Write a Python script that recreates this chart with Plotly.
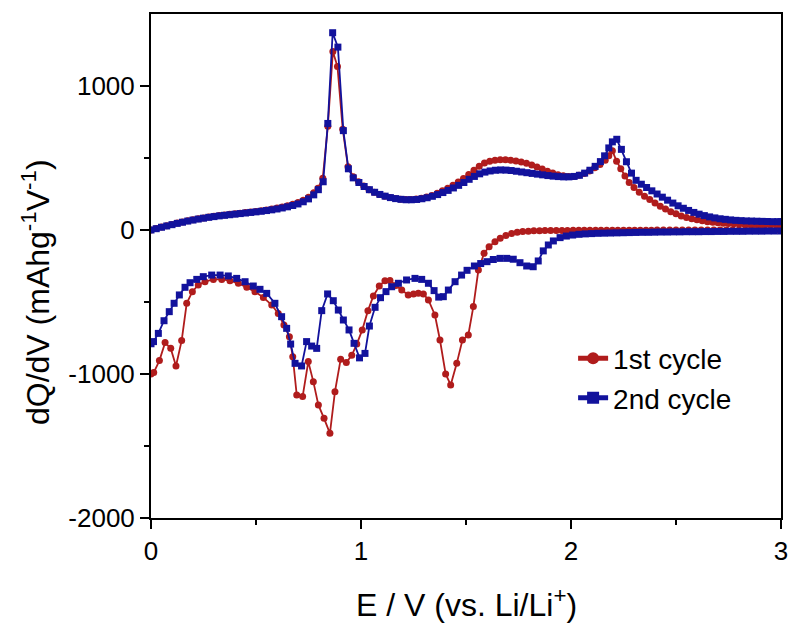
import plotly.graph_objects as go

# (E / V, dQ/dV / mAh g^-1 V^-1) pairs
charge_1st = [
    (0.0, 0), (0.025, 10), (0.05, 20), (0.075, 30), (0.1, 39), (0.125, 48), (0.15, 56), (0.175, 64),
    (0.2, 71), (0.225, 78), (0.25, 84), (0.275, 90), (0.3, 95), (0.325, 100), (0.35, 105), (0.375, 109),
    (0.4, 113), (0.425, 117), (0.45, 121), (0.475, 125), (0.5, 129), (0.525, 134), (0.55, 139), (0.575, 145),
    (0.6, 152), (0.625, 160), (0.65, 169), (0.675, 179), (0.7, 191), (0.725, 207), (0.75, 228), (0.775, 258),
    (0.795, 290), (0.818, 360), (0.842, 720), (0.866, 1240), (0.888, 1135), (0.913, 700), (0.938, 440),
    (0.963, 370), (0.988, 335), (1.013, 305), (1.038, 280), (1.063, 262), (1.088, 247), (1.113, 235),
    (1.138, 225), (1.163, 218), (1.188, 213), (1.213, 211), (1.238, 212), (1.263, 215), (1.288, 221),
    (1.313, 229), (1.338, 240), (1.363, 255), (1.388, 272), (1.413, 290), (1.438, 310), (1.463, 333),
    (1.488, 358), (1.513, 385), (1.538, 415), (1.563, 442), (1.588, 465), (1.613, 478), (1.638, 485),
    (1.663, 488), (1.688, 487), (1.713, 484), (1.738, 479), (1.763, 472), (1.788, 463), (1.813, 452),
    (1.838, 438), (1.863, 423), (1.888, 408), (1.913, 395), (1.938, 384), (1.963, 376), (1.988, 371),
    (2.013, 372), (2.038, 380), (2.063, 393), (2.088, 410), (2.113, 432), (2.138, 455), (2.163, 485),
    (2.18, 515), (2.197, 550), (2.217, 478), (2.237, 425), (2.257, 375), (2.277, 330), (2.3, 295),
    (2.325, 262), (2.35, 235), (2.375, 212), (2.4, 188), (2.425, 165), (2.45, 145), (2.475, 127),
    (2.5, 112), (2.525, 98), (2.55, 87), (2.575, 78), (2.6, 71), (2.625, 64), (2.65, 58), (2.675, 54),
    (2.7, 50), (2.725, 47), (2.75, 45), (2.775, 43), (2.8, 41), (2.825, 40), (2.85, 39), (2.875, 38),
    (2.9, 37), (2.925, 37), (2.95, 36), (2.975, 36), (3.0, 35),
]

discharge_1st = [
    (0.0, -1000), (0.013, -990), (0.04, -907), (0.067, -782), (0.094, -822), (0.119, -944), (0.146, -768),
    (0.17, -509), (0.197, -428), (0.225, -382), (0.257, -359), (0.297, -343), (0.337, -343), (0.376, -352),
    (0.416, -370), (0.456, -398), (0.495, -428), (0.535, -468), (0.575, -521), (0.606, -579), (0.633, -660),
    (0.659, -741), (0.675, -880), (0.694, -1146), (0.722, -1157), (0.749, -914), (0.773, -1053),
    (0.797, -1215), (0.824, -1308), (0.852, -1412), (0.876, -1123), (0.903, -898), (0.93, -921),
    (0.956, -870), (0.98, -792), (1.006, -694), (1.033, -560), (1.059, -458), (1.087, -389), (1.114, -352),
    (1.138, -350), (1.166, -385), (1.194, -417), (1.225, -451), (1.25, -445), (1.273, -440), (1.297, -444),
    (1.321, -486), (1.352, -590), (1.376, -764), (1.403, -1000), (1.427, -1076), (1.456, -926),
    (1.483, -764), (1.511, -729), (1.535, -532), (1.559, -278), (1.586, -162), (1.61, -116), (1.638, -81),
    (1.663, -57), (1.69, -38), (1.717, -25), (1.744, -16), (1.77, -11), (1.797, -8), (1.823, -6),
    (1.85, -5), (1.876, -4), (1.903, -4), (1.93, -3), (1.957, -3), (1.983, -3), (2.01, -2), (2.037, -2),
    (2.063, -2), (2.09, -2), (2.117, -2), (2.143, -2), (2.17, -1), (2.197, -1), (2.223, -1), (2.25, -1),
    (2.277, -1), (2.303, -1), (2.33, -1), (2.357, -1), (2.383, -1), (2.41, 0), (2.44, 0), (2.47, 0),
    (2.5, 0), (2.53, 0), (2.56, 0), (2.59, 0), (2.62, 0), (2.65, 0), (2.68, 0), (2.71, 0), (2.74, 0),
    (2.77, 0), (2.8, 0), (2.83, 0), (2.86, 0), (2.89, 0), (2.92, 0), (2.95, 0), (2.98, 0), (3.0, 0),
]

charge_2nd = [
    (0.0, 0), (0.025, 9), (0.05, 19), (0.075, 28), (0.1, 37), (0.125, 46), (0.15, 54), (0.175, 62),
    (0.2, 69), (0.225, 76), (0.25, 82), (0.275, 88), (0.3, 93), (0.325, 98), (0.35, 102), (0.375, 106),
    (0.4, 110), (0.425, 114), (0.45, 118), (0.475, 122), (0.5, 126), (0.525, 130), (0.55, 135), (0.575, 140),
    (0.6, 146), (0.625, 153), (0.65, 161), (0.675, 170), (0.7, 181), (0.725, 196), (0.75, 216), (0.775, 244),
    (0.797, 280), (0.82, 335), (0.842, 740), (0.865, 1370), (0.89, 1270), (0.916, 690), (0.94, 425),
    (0.963, 362), (0.99, 330), (1.015, 302), (1.04, 280), (1.065, 262), (1.09, 247), (1.115, 235),
    (1.14, 225), (1.165, 218), (1.19, 213), (1.215, 210), (1.24, 210), (1.265, 212), (1.29, 217),
    (1.315, 224), (1.34, 234), (1.365, 246), (1.39, 260), (1.415, 275), (1.44, 292), (1.465, 310),
    (1.49, 330), (1.515, 352), (1.54, 372), (1.565, 390), (1.59, 402), (1.615, 410), (1.64, 415),
    (1.665, 417), (1.69, 416), (1.715, 413), (1.74, 408), (1.765, 403), (1.79, 398), (1.815, 393),
    (1.84, 388), (1.865, 383), (1.89, 378), (1.915, 374), (1.94, 371), (1.965, 369), (1.99, 369),
    (2.015, 372), (2.04, 380), (2.065, 395), (2.09, 415), (2.115, 442), (2.14, 475), (2.16, 515),
    (2.18, 570), (2.197, 612), (2.218, 630), (2.24, 560), (2.264, 474), (2.288, 395), (2.31, 345),
    (2.335, 318), (2.36, 295), (2.385, 272), (2.41, 250), (2.435, 228), (2.46, 207), (2.485, 187),
    (2.51, 168), (2.535, 151), (2.56, 136), (2.585, 122), (2.61, 110), (2.635, 100), (2.66, 91),
    (2.685, 84), (2.71, 78), (2.735, 74), (2.76, 70), (2.785, 67), (2.81, 65), (2.835, 63), (2.86, 62),
    (2.885, 61), (2.91, 60), (2.935, 59), (2.96, 58), (2.985, 58), (3.0, 58),
]

discharge_2nd = [
    (0.0, -790), (0.012, -775), (0.035, -718), (0.062, -630), (0.087, -567), (0.11, -509), (0.135, -451),
    (0.162, -398), (0.186, -366), (0.218, -343), (0.249, -324), (0.289, -313), (0.329, -313), (0.368, -319),
    (0.408, -336), (0.448, -359), (0.487, -389), (0.519, -412), (0.551, -440), (0.59, -509), (0.622, -602),
    (0.646, -683), (0.665, -792), (0.686, -926), (0.717, -944), (0.741, -775), (0.765, -806), (0.789, -822),
    (0.813, -560), (0.841, -444), (0.868, -491), (0.892, -556), (0.916, -625), (0.943, -694), (0.967, -787),
    (0.993, -888), (1.019, -857), (1.04, -667), (1.067, -537), (1.093, -470), (1.119, -428), (1.146, -394),
    (1.178, -370), (1.217, -347), (1.257, -336), (1.289, -343), (1.321, -370), (1.348, -421), (1.37, -466),
    (1.392, -463), (1.416, -417), (1.448, -359), (1.479, -313), (1.505, -280), (1.54, -250), (1.57, -233),
    (1.6, -220), (1.63, -205), (1.662, -197), (1.694, -197), (1.725, -203), (1.757, -227), (1.789, -250),
    (1.82, -255), (1.844, -215), (1.868, -145), (1.892, -104), (1.916, -76), (1.948, -53), (1.978, -42),
    (2.008, -35), (2.038, -30), (2.068, -27), (2.098, -25), (2.128, -23), (2.158, -22), (2.188, -21),
    (2.218, -20), (2.248, -19), (2.278, -18), (2.308, -17), (2.338, -16), (2.368, -16), (2.398, -15),
    (2.428, -14), (2.458, -14), (2.488, -13), (2.518, -13), (2.548, -12), (2.578, -12), (2.608, -12),
    (2.638, -11), (2.668, -11), (2.698, -10), (2.728, -10), (2.758, -9), (2.788, -9), (2.818, -9),
    (2.848, -8), (2.878, -8), (2.908, -8), (2.938, -7), (2.968, -7), (3.0, -7),
]

series_names = ["1st cycle", "2nd cycle"]
x_tick_vals = [0, 1, 2, 3]
y_tick_vals = [-2000, -1000, 0, 1000]
y_tick_text = ["-2000", "-1000", "0", "1000"]
x_title = "E / V (vs. Li/Li<sup>+</sup>)"
y_title = "dQ/dV (mAhg<sup>-1</sup>V<sup>-1</sup>)"

RED = "#B01C1C"
BLUE = "#12129C"
FONT = "Liberation Sans, Arial, sans-serif"


def join_branches(a, b):
    xs = [p[0] for p in a] + [None] + [p[0] for p in b]
    ys = [p[1] for p in a] + [None] + [p[1] for p in b]
    return xs, ys


fig = go.Figure()
for name, ch, dis, color, symbol in [
    (series_names[0], charge_1st, discharge_1st, RED, "circle"),
    (series_names[1], charge_2nd, discharge_2nd, BLUE, "square"),
]:
    xs, ys = join_branches(ch, dis)
    fig.add_trace(go.Scatter(
        x=xs, y=ys, name=name, mode="lines+markers",
        line=dict(color=color, width=1.8),
        marker=dict(color=color, symbol=symbol, size=7, line=dict(width=0)),
        connectgaps=False,
    ))

axis_common = dict(
    showline=True, linecolor="black", linewidth=2, mirror=True,
    showgrid=False, zeroline=False, automargin=False, ticklabeloverflow="allow",
    ticks="outside", ticklen=9, tickwidth=2, tickcolor="black",
    tickfont=dict(family=FONT, size=26, color="black"),
)

fig.update_xaxes(
    range=[0, 3], tickmode="array", tickvals=x_tick_vals,
    minor=dict(tickmode="array", tickvals=[0.5, 1.5, 2.5], ticks="outside",
               ticklen=5, tickwidth=2, tickcolor="black"),
    **axis_common,
)
fig.update_yaxes(
    range=[-2000, 1500], tickmode="array", tickvals=y_tick_vals, ticktext=y_tick_text,
    minor=dict(tickmode="array", tickvals=[-1500, -500, 500], ticks="outside",
               ticklen=5, tickwidth=2, tickcolor="black"),
    **axis_common,
)

fig.add_annotation(
    text=x_title, xref="paper", yref="paper", x=0.5, y=(518 - 603) / 504,
    xanchor="center", yanchor="middle", showarrow=False,
    font=dict(family=FONT, size=32, color="black"),
)
fig.add_annotation(
    text=y_title, xref="paper", yref="paper", x=(36 - 151) / 630, y=(518 - 292) / 504,
    xanchor="center", yanchor="middle", showarrow=False, textangle=-90,
    font=dict(family=FONT, size=32, color="black"),
)

fig.update_layout(
    width=791, height=625,
    margin=dict(l=151, r=10, t=14, b=107),
    paper_bgcolor="white", plot_bgcolor="white",
    font=dict(family=FONT, color="black"),
    showlegend=True,
    legend=dict(x=0.67, y=0.366, xanchor="left", yanchor="top",
                bgcolor="rgba(0,0,0,0)", borderwidth=0,
                font=dict(family=FONT, size=28, color="black"),
                tracegroupgap=0, itemsizing="constant"),
)

fig.write_html(
    "out.html",
    config={"displayModeBar": False},
    post_script="document.body.style.margin='0';document.body.style.overflow='hidden';",
)
